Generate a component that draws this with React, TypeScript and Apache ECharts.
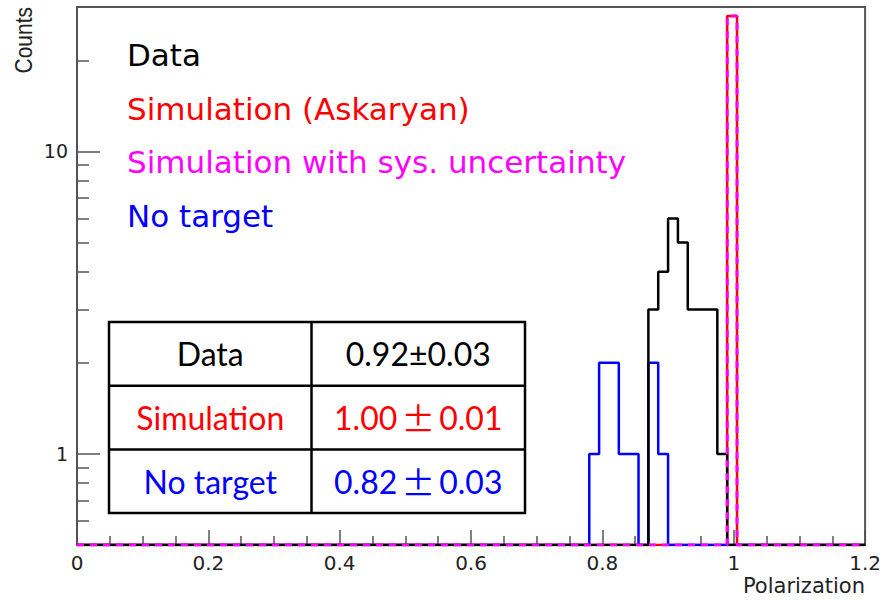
import React, { useEffect, useRef } from "react";
import * as echarts from "echarts";

// Histogram binning (Polarization axis)
const X_MIN = 0;
const X_MAX = 1.2;
const BIN_WIDTH = 0.015;
const Y_MIN = 0.5;
const Y_MAX = 30;

const seriesNames = ["Data", "Simulation (Askaryan)", "Simulation with sys. uncertainty", "No target"];
const seriesColors = ["#000000", "#ff0000", "#ff00ff", "#0000ff"];

// Non-empty bins: low edge of each bin and its count
const dataBinLow = [0.87, 0.885, 0.9, 0.915, 0.93, 0.945, 0.96, 0.975];
const dataCounts = [3, 4, 6, 5, 3, 3, 3, 1];
const simBinLow = [0.99];
const simCounts = [28];
const simSysBinLow = [0.99];
const simSysCounts = [28];
const noTargetBinLow = [0.78, 0.795, 0.81, 0.825, 0.84, 0.87, 0.885];
const noTargetCounts = [1, 2, 2, 1, 1, 2, 1];

// Axis ticks
const yMajorTicks = [1, 10];
const yMinorTicks = [0.6, 0.7, 0.8, 0.9, 2, 3, 4, 5, 6, 7, 8, 9, 20];

// Fit-result table
const tableLabels = ["Data", "Simulation", "No target"];
const tableMeans = ["0.92", "1.00", "0.82"];
const tableErrors = ["0.03", "0.01", "0.03"];
const tableColors = ["#000000", "#ff0000", "#0000ff"];
const tableWidePm = [false, true, true];

// Step outline of a histogram; empty bins sit on the bottom of the frame
function outline(lows: number[], counts: number[]): number[][] {
  const nBins = Math.round((X_MAX - X_MIN) / BIN_WIDTH);
  const h = new Array(nBins).fill(0);
  lows.forEach((lo, k) => {
    h[Math.round((lo - X_MIN) / BIN_WIDTH)] = counts[k];
  });
  const pts: number[][] = [];
  for (let i = 0; i < nBins; i++) {
    const lo = +(X_MIN + i * BIN_WIDTH).toFixed(4);
    const hi = +(X_MIN + (i + 1) * BIN_WIDTH).toFixed(4);
    const v = Math.max(h[i], Y_MIN);
    pts.push([lo, v], [hi, v]);
  }
  return pts;
}

const GRID = { left: 77, right: 18, top: 7, bottom: 55 };
const AXIS_COLOR = "#555555";
const LABEL_COLOR = "#222222";

function buildTable(): any {
  const x0 = 109, x1 = 311.5, x2 = 525;
  const y0 = 322, rowH = 63.7;
  const children: any[] = [
    {
      type: "rect",
      shape: { x: x0, y: y0, width: x2 - x0, height: rowH * 3 },
      style: { fill: "#ffffff", stroke: "#000000", lineWidth: 2.5 },
    },
    {
      type: "line",
      shape: { x1, y1: y0, x2: x1, y2: y0 + rowH * 3 },
      style: { stroke: "#000000", lineWidth: 2.5 },
    },
  ];
  for (let r = 1; r < 3; r++) {
    children.push({
      type: "line",
      shape: { x1: x0, y1: y0 + rowH * r, x2, y2: y0 + rowH * r },
      style: { stroke: "#000000", lineWidth: 2.5 },
    });
  }
  tableLabels.forEach((label, r) => {
    const cy = y0 + rowH * (r + 0.5);
    children.push({
      type: "text",
      x: (x0 + x1) / 2,
      y: cy,
      style: {
        text: label,
        fill: tableColors[r],
        fontFamily: "Lato",
        fontSize: 32,
        align: "center",
        verticalAlign: "middle",
      },
    });
    children.push({
      type: "text",
      x: (x1 + x2) / 2,
      y: cy,
      style: {
        text: `{v|${tableMeans[r]}}{${tableWidePm[r] ? "pmw" : "pm"}|±}{v|${tableErrors[r]}}`,
        fill: tableColors[r],
        fontFamily: "Lato",
        fontSize: 32,
        align: "center",
        verticalAlign: "middle",
        rich: {
          v: { fontFamily: "Lato", fontSize: 32, fill: tableColors[r] },
          pm: { fontFamily: "Lato", fontSize: 32, fill: tableColors[r] },
          pmw: {
            fontFamily: "Noto Sans CJK JP",
            fontSize: 34,
            width: 42,
            align: "center",
            fill: tableColors[r],
          },
        },
      },
    });
  });
  return { type: "group", children };
}

export default function App() {
  const ref = useRef<HTMLDivElement>(null);

  useEffect(() => {
    if (!ref.current) return;
    const chart = echarts.init(ref.current, undefined, { renderer: "svg" });

    const lineSeries = (idx: number, data: number[][], extra: any = {}) => ({
      name: seriesNames[idx],
      type: "line",
      data,
      symbol: "none",
      showSymbol: false,
      yAxisIndex: 0,
      color: seriesColors[idx],
      lineStyle: { color: seriesColors[idx], width: 2.5, ...extra },
      silent: true,
    });

    chart.setOption({
      animation: false,
      backgroundColor: "#ffffff",
      grid: { ...GRID, show: true, borderColor: AXIS_COLOR, borderWidth: 2, backgroundColor: "transparent" },
      legend: {
        orient: "vertical",
        left: 122,
        top: 37,
        padding: 0,
        icon: "none",
        itemWidth: 0,
        itemHeight: 0,
        itemGap: 17.7,
        selectedMode: false,
        textStyle: { fontFamily: "DejaVu Sans", fontSize: 31, lineHeight: 36 },
        data: seriesNames.map((n, i) => ({ name: n, textStyle: { color: seriesColors[i] } })),
      },
      xAxis: {
        type: "value",
        min: X_MIN,
        max: X_MAX,
        interval: 0.2,
        axisLine: { show: true, onZero: false, lineStyle: { color: AXIS_COLOR, width: 2 } },
        axisTick: { show: true, inside: true, length: 15, lineStyle: { color: AXIS_COLOR, width: 1.5 } },
        minorTick: { show: true, splitNumber: 4, length: 9, lineStyle: { color: AXIS_COLOR, width: 1.5 } },
        splitLine: { show: false },
        axisLabel: { color: LABEL_COLOR, fontFamily: "DejaVu Sans", fontSize: 20, margin: 8 },
      },
      yAxis: [
        {
          type: "log",
          logBase: 10,
          min: Y_MIN,
          max: Y_MAX,
          axisLine: { show: true, lineStyle: { color: AXIS_COLOR, width: 2 } },
          axisTick: { show: true, inside: true, length: 23, customValues: yMajorTicks, lineStyle: { color: AXIS_COLOR, width: 1.5 } },
          axisLabel: { color: LABEL_COLOR, fontFamily: "DejaVu Sans", fontSize: 19, margin: 9, customValues: yMajorTicks },
          splitLine: { show: false },
        },
        {
          type: "log",
          logBase: 10,
          min: Y_MIN,
          max: Y_MAX,
          position: "left",
          axisLine: { show: false },
          axisTick: { show: true, inside: true, length: 12, customValues: yMinorTicks, lineStyle: { color: AXIS_COLOR, width: 1.5 } },
          axisLabel: { show: false },
          splitLine: { show: false },
        },
      ],
      series: [
        lineSeries(1, outline(simBinLow, simCounts)),
        lineSeries(3, outline(noTargetBinLow, noTargetCounts)),
        lineSeries(0, outline(dataBinLow, dataCounts)),
        lineSeries(2, outline(simSysBinLow, simSysCounts), { width: 3, type: [7, 6] }),
      ],
      graphic: [
        {
          type: "text",
          x: 23,
          y: 7,
          rotation: Math.PI / 2,
          scaleY: 1.17,
          style: {
            text: "Counts",
            fill: LABEL_COLOR,
            fontFamily: "Liberation Sans",
            fontSize: 21,
            align: "right",
            verticalAlign: "middle",
          },
        },
        {
          type: "text",
          x: 865,
          y: 586,
          style: {
            text: "Polarization",
            fill: LABEL_COLOR,
            fontFamily: "DejaVu Sans",
            fontSize: 21,
            align: "right",
            verticalAlign: "middle",
          },
        },
        buildTable(),
      ],
    });

    return () => chart.dispose();
  }, []);

  return (
    <div
      ref={ref}
      style={{ position: "absolute", left: 0, top: 0, width: 884, height: 600 }}
    />
  );
}
